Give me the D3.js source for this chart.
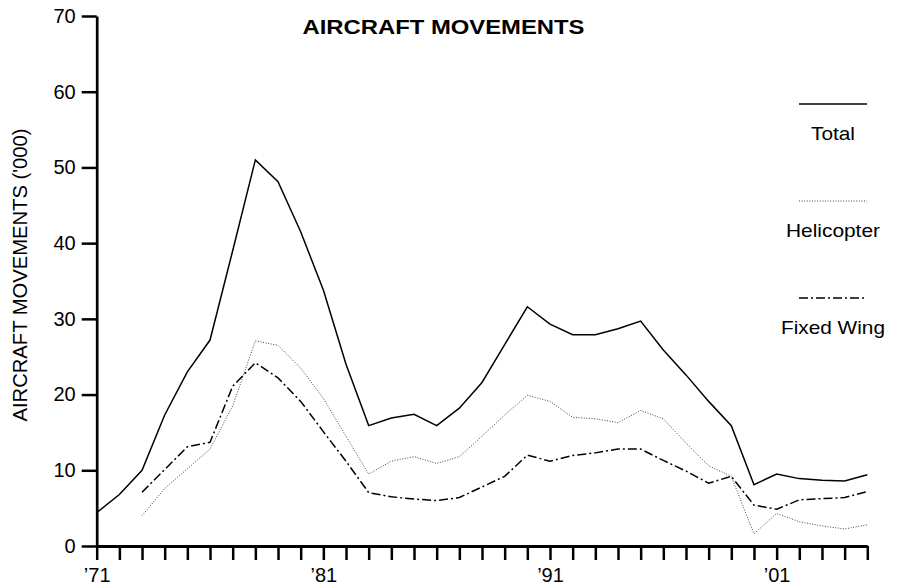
<!DOCTYPE html>
<html>
<head>
<meta charset="utf-8">
<script src="https://cdn.jsdelivr.net/npm/d3@7"></script>
<style>
  body { margin: 0; background: #fff; }
  text { font-family: "Liberation Sans", Arial, Helvetica, sans-serif; fill: #000; }
</style>
</head>
<body>
<svg id="chart" width="898" height="587"></svg>
<script>
// Years on the x axis
const years = [1971, 1972, 1973, 1974, 1975, 1976, 1977, 1978, 1979, 1980,
  1981, 1982, 1983, 1984, 1985, 1986, 1987, 1988, 1989, 1990,
  1991, 1992, 1993, 1994, 1995, 1996, 1997, 1998, 1999, 2000,
  2001, 2002, 2003, 2004, 2005];

// Aircraft movements ('000)
const total = [4.4, 6.8, 10.0, 17.3, 23.0, 27.2, 39.0, 51.0, 48.1, 41.5,
  33.8, 24.0, 15.9, 16.9, 17.4, 15.9, 18.2, 21.6, 26.6, 31.6,
  29.3, 27.9, 27.9, 28.7, 29.7, 25.9, 22.6, 19.1, 15.9, 8.1,
  9.5, 8.9, 8.7, 8.6, 9.4];

const helicopter = [null, null, 4.0, 7.6, 10.2, 12.8, 18.5, 27.1, 26.5, 23.5,
  19.5, 14.5, 9.5, 11.2, 11.8, 10.9, 11.8, 14.5, 17.3, 19.9,
  19.1, 17.0, 16.8, 16.3, 17.9, 16.8, 13.6, 10.6, 9.2, 1.6,
  4.3, 3.2, 2.65, 2.25, 2.8];

const fixedWing = [null, null, 7.1, 10.1, 13.1, 13.7, 21.1, 24.2, 22.2, 19.1,
  15.1, 11.2, 7.05, 6.5, 6.2, 6.0, 6.4, 7.8, 9.2, 12.0,
  11.2, 11.95, 12.3, 12.8, 12.8, 11.3, 9.9, 8.3, 9.2, 5.4,
  4.85, 6.1, 6.25, 6.4, 7.2];

const yTicks = [0, 10, 20, 30, 40, 50, 60, 70];
const xLabels = [1971, 1981, 1991, 2001];

const series = [
  { name: "Total", values: total, stroke: "#000", width: 1.5, dash: null, len: 44 },
  { name: "Helicopter", values: helicopter, stroke: "#444", width: 1, dash: "1,1.6", len: 94 },
  { name: "Fixed Wing", values: fixedWing, stroke: "#000", width: 1.5, dash: "9,3,2,3", len: 104 }
];

const svg = d3.select("#chart");

const x = d3.scaleLinear().domain([1971, 2005]).range([96.7, 867.3]);
const y = d3.scaleLinear().domain([0, 70]).range([546, 16]);

// Title (the original type is set wide, so stretch the glyphs)
svg.append("text")
  .attr("x", 302.5)
  .attr("y", 34.3)
  .attr("font-size", 20)
  .attr("font-weight", "bold")
  .attr("textLength", 282)
  .attr("lengthAdjust", "spacingAndGlyphs")
  .text("AIRCRAFT MOVEMENTS");

// Y axis title
svg.append("text")
  .attr("transform", "translate(27,275) rotate(-90)")
  .attr("text-anchor", "middle")
  .attr("font-size", 19.5)
  .attr("textLength", 293)
  .attr("lengthAdjust", "spacingAndGlyphs")
  .text("AIRCRAFT MOVEMENTS ('000)");

// Y axis
const yAxis = svg.append("g")
  .attr("transform", `translate(${x(1971)},0)`)
  .call(d3.axisLeft(y).tickValues(yTicks).tickSize(15).tickPadding(6).tickSizeOuter(0));
yAxis.select(".domain").attr("stroke", "#000").attr("stroke-width", 2.7);
yAxis.selectAll(".tick line").attr("stroke", "#000").attr("stroke-width", 2.5);
yAxis.selectAll(".tick text")
  .attr("font-size", 20)
  .attr("font-family", "\"Liberation Sans\", Arial, sans-serif")
  .attr("fill", "#000");

// X axis: a tick every year, labels every ten
const xAxis = svg.append("g")
  .attr("transform", `translate(0,${y(0)})`)
  .call(d3.axisBottom(x).tickValues(years).tickSize(14).tickPadding(8).tickSizeOuter(0)
    .tickFormat(d => xLabels.includes(d) ? "\u2019" + String(d).slice(2) : ""));
xAxis.select(".domain").attr("stroke", "#000").attr("stroke-width", 3);
xAxis.selectAll(".tick line").attr("stroke", "#000").attr("stroke-width", 2.5);
xAxis.selectAll(".tick text")
  .attr("font-size", 20)
  .attr("font-family", "\"Liberation Sans\", Arial, sans-serif")
  .attr("fill", "#000");

// Lines
const line = d3.line()
  .defined(d => d[1] !== null)
  .x(d => x(d[0]))
  .y(d => y(d[1]));

series.forEach(s => {
  svg.append("path")
    .datum(years.map((yr, i) => [yr, s.values[i]]))
    .attr("fill", "none")
    .attr("stroke", s.stroke)
    .attr("stroke-width", s.width)
    .attr("stroke-dasharray", s.dash)
    .attr("stroke-linejoin", "miter")
    .attr("d", line);
});

// Legend
const legend = svg.append("g");
series.forEach((s, i) => {
  const ly = 104 + i * 97;
  legend.append("line")
    .attr("x1", 799).attr("x2", 867)
    .attr("y1", ly).attr("y2", ly)
    .attr("stroke", s.stroke)
    .attr("stroke-width", s.width)
    .attr("stroke-dasharray", s.dash);
  legend.append("text")
    .attr("x", 833)
    .attr("y", ly + 35.5)
    .attr("text-anchor", "middle")
    .attr("font-size", 18.5)
    .attr("textLength", s.len)
    .attr("lengthAdjust", "spacingAndGlyphs")
    .text(s.name);
});
</script>
</body>
</html>
